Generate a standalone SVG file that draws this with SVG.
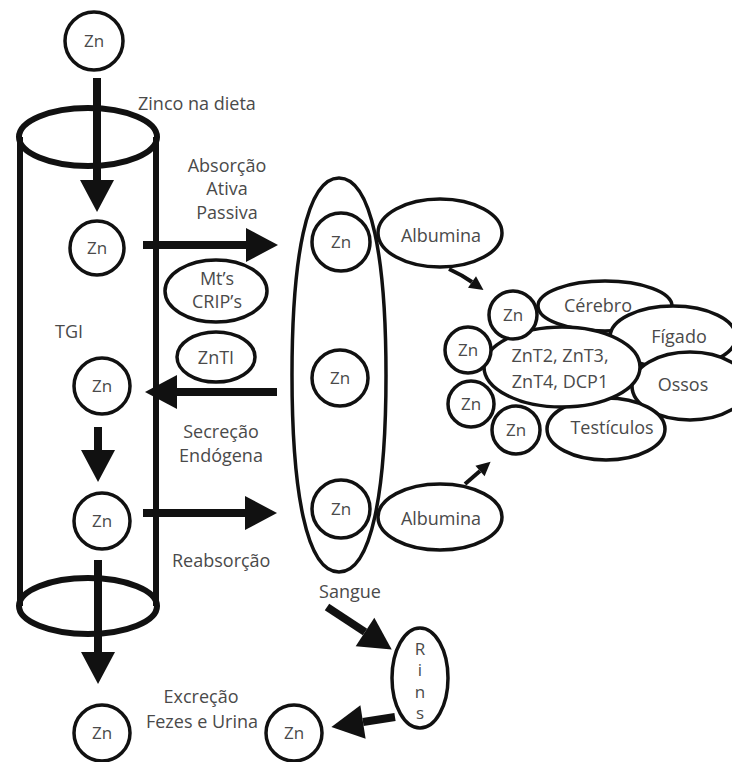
<svg xmlns="http://www.w3.org/2000/svg" width="732" height="762" viewBox="0 0 732 762">
<style>
.s{fill:#fff;stroke:#111;stroke-width:3.5}
.n{fill:none;stroke:#111;stroke-width:3.5}
.cyl{fill:none;stroke:#111;stroke-width:6}
.t{font-family:"Open Sans","Noto Sans",sans-serif;font-size:18px;fill:#4a4a4a}
.z{font-size:17px}
.m{text-anchor:middle}
.a{fill:none;stroke:#111;stroke-width:8}
.as{fill:none;stroke:#111;stroke-width:4}
</style>
<defs>
<marker id="big" markerUnits="userSpaceOnUse" markerWidth="34" markerHeight="36" refX="0" refY="17" orient="auto" viewBox="0 0 34 36" overflow="visible"><path d="M0,0 L32,17 L0,34 Z" fill="#111"/></marker>
<marker id="sm" markerUnits="userSpaceOnUse" markerWidth="16" markerHeight="16" refX="0" refY="7" orient="auto" viewBox="0 0 16 16" overflow="visible"><path d="M0,0 L14,7 L0,14 Z" fill="#111"/></marker>
</defs>
<rect width="732" height="762" fill="#fff"/>
<g id="tgi">
<line class="cyl" x1="20" y1="137" x2="20" y2="606"/>
<line class="cyl" x1="156" y1="137" x2="156" y2="606"/>
<ellipse class="cyl" cx="88" cy="137" rx="69" ry="29"/>
<ellipse class="cyl" cx="88" cy="606" rx="69" ry="28"/>
<text class="t" x="55" y="338">TGI</text>
</g>
<g id="zn-top"><circle class="s" cx="94" cy="41" r="29"/><text class="t z m" x="94" y="47">Zn</text></g>
<g id="zn-gi1"><circle class="s" cx="97" cy="248" r="27"/><text class="t z m" x="97" y="254">Zn</text></g>
<g id="zn-gi2"><circle class="s" cx="102" cy="386" r="28"/><text class="t z m" x="102" y="392">Zn</text></g>
<g id="zn-gi3"><circle class="s" cx="102" cy="521" r="28"/><text class="t z m" x="102" y="527">Zn</text></g>
<g id="zn-out"><circle class="s" cx="102" cy="733" r="28"/><text class="t z m" x="102" y="739">Zn</text></g>
<g id="mts"><ellipse class="s" cx="216" cy="291" rx="51" ry="31"/><text class="t m" x="217" y="285">Mt’s</text><text class="t m" x="217" y="308">CRIP’s</text></g>
<g id="znti"><ellipse class="s" cx="216" cy="357" rx="39" ry="25"/><text class="t m" x="216" y="364">ZnTI</text></g>
<g id="sangue">
<path class="n" d="M339,178 C372,178 386,260 386,375 C386,490 372,572 339,572 C306,572 292,490 292,375 C292,260 306,178 339,178 Z"/>
<text class="t m" x="350" y="598">Sangue</text>
</g>
<g id="zn-b1"><circle class="s" cx="341" cy="242" r="29"/><text class="t z m" x="341" y="248">Zn</text></g>
<g id="zn-b2"><circle class="s" cx="340" cy="378" r="28"/><text class="t z m" x="340" y="384">Zn</text></g>
<g id="zn-b3"><circle class="s" cx="341" cy="509" r="29"/><text class="t z m" x="341" y="515">Zn</text></g>
<g id="alb1"><ellipse class="s" cx="440" cy="233" rx="62" ry="34"/><text class="t m" x="441" y="242">Albumina</text></g>
<g id="alb2"><ellipse class="s" cx="440" cy="517" rx="62" ry="33"/><text class="t m" x="441" y="525">Albumina</text></g>
<g id="cerebro"><ellipse class="s" cx="605" cy="306" rx="67" ry="25"/><text class="t m" x="598" y="312">Cérebro</text></g>
<g id="figado"><ellipse class="s" cx="673" cy="337" rx="63" ry="31"/><text class="t m" x="679" y="343">Fígado</text></g>
<g id="ossos"><ellipse class="s" cx="690" cy="386" rx="58" ry="34"/><text class="t m" x="683" y="391">Ossos</text></g>
<g id="testiculos"><ellipse class="s" cx="606" cy="429" rx="59" ry="31"/><text class="t m" x="612" y="434">Testículos</text></g>
<g id="znt"><ellipse class="s" cx="562" cy="367" rx="78" ry="40"/><text class="t m" x="560" y="362">ZnT2, ZnT3,</text><text class="t m" x="560" y="388">ZnT4, DCP1</text></g>
<g id="zn-c1"><circle class="s" cx="513" cy="315" r="24"/><text class="t z m" x="513" y="321">Zn</text></g>
<g id="zn-c2"><circle class="s" cx="468" cy="350" r="23"/><text class="t z m" x="468" y="356">Zn</text></g>
<g id="zn-c3"><circle class="s" cx="471" cy="404" r="23"/><text class="t z m" x="471" y="410">Zn</text></g>
<g id="zn-c4"><circle class="s" cx="516" cy="430" r="24"/><text class="t z m" x="516" y="436">Zn</text></g>
<g id="rins"><ellipse class="s" cx="420" cy="678" rx="28" ry="50"/>
<text class="t z m" x="420" y="655">R<tspan x="420" dy="21">i</tspan><tspan x="420" dy="22">n</tspan><tspan x="420" dy="21">s</tspan></text></g>
<g id="zn-rins"><circle class="s" cx="294" cy="733" r="28"/><text class="t z m" x="294" y="739">Zn</text></g>
<g id="labels">
<text class="t" x="138" y="110">Zinco na dieta</text>
<text class="t m" x="227" y="172">Absorção</text>
<text class="t m" x="227" y="195">Ativa</text>
<text class="t m" x="227" y="219">Passiva</text>
<text class="t m" x="221" y="438">Secreção</text>
<text class="t m" x="221" y="462">Endógena</text>
<text class="t" x="172" y="567">Reabsorção</text>
<text class="t m" x="201" y="703">Excreção</text>
<text class="t m" x="202" y="728">Fezes e Urina</text>
</g>
<g id="connectors">
<line class="a" x1="97" y1="78" x2="97" y2="180" marker-end="url(#big)"/>
<line class="a" x1="98" y1="427" x2="98" y2="450" marker-end="url(#big)"/>
<line class="a" x1="98" y1="560" x2="98" y2="652" marker-end="url(#big)"/>
<line class="a" x1="143" y1="245" x2="246" y2="245" marker-end="url(#big)"/>
<line class="a" x1="277" y1="392" x2="177" y2="392" marker-end="url(#big)"/>
<line class="a" x1="143" y1="513" x2="245" y2="513" marker-end="url(#big)"/>
<line class="a" x1="327" y1="607" x2="365" y2="632" marker-end="url(#big)"/>
<line class="a" x1="395" y1="717" x2="363" y2="722" marker-end="url(#big)"/>
<path class="as" d="M449,269 Q462,275 472,282" marker-end="url(#sm)"/>
<line class="as" x1="465" y1="484" x2="480" y2="471" marker-end="url(#sm)"/>
</g>
</svg>
